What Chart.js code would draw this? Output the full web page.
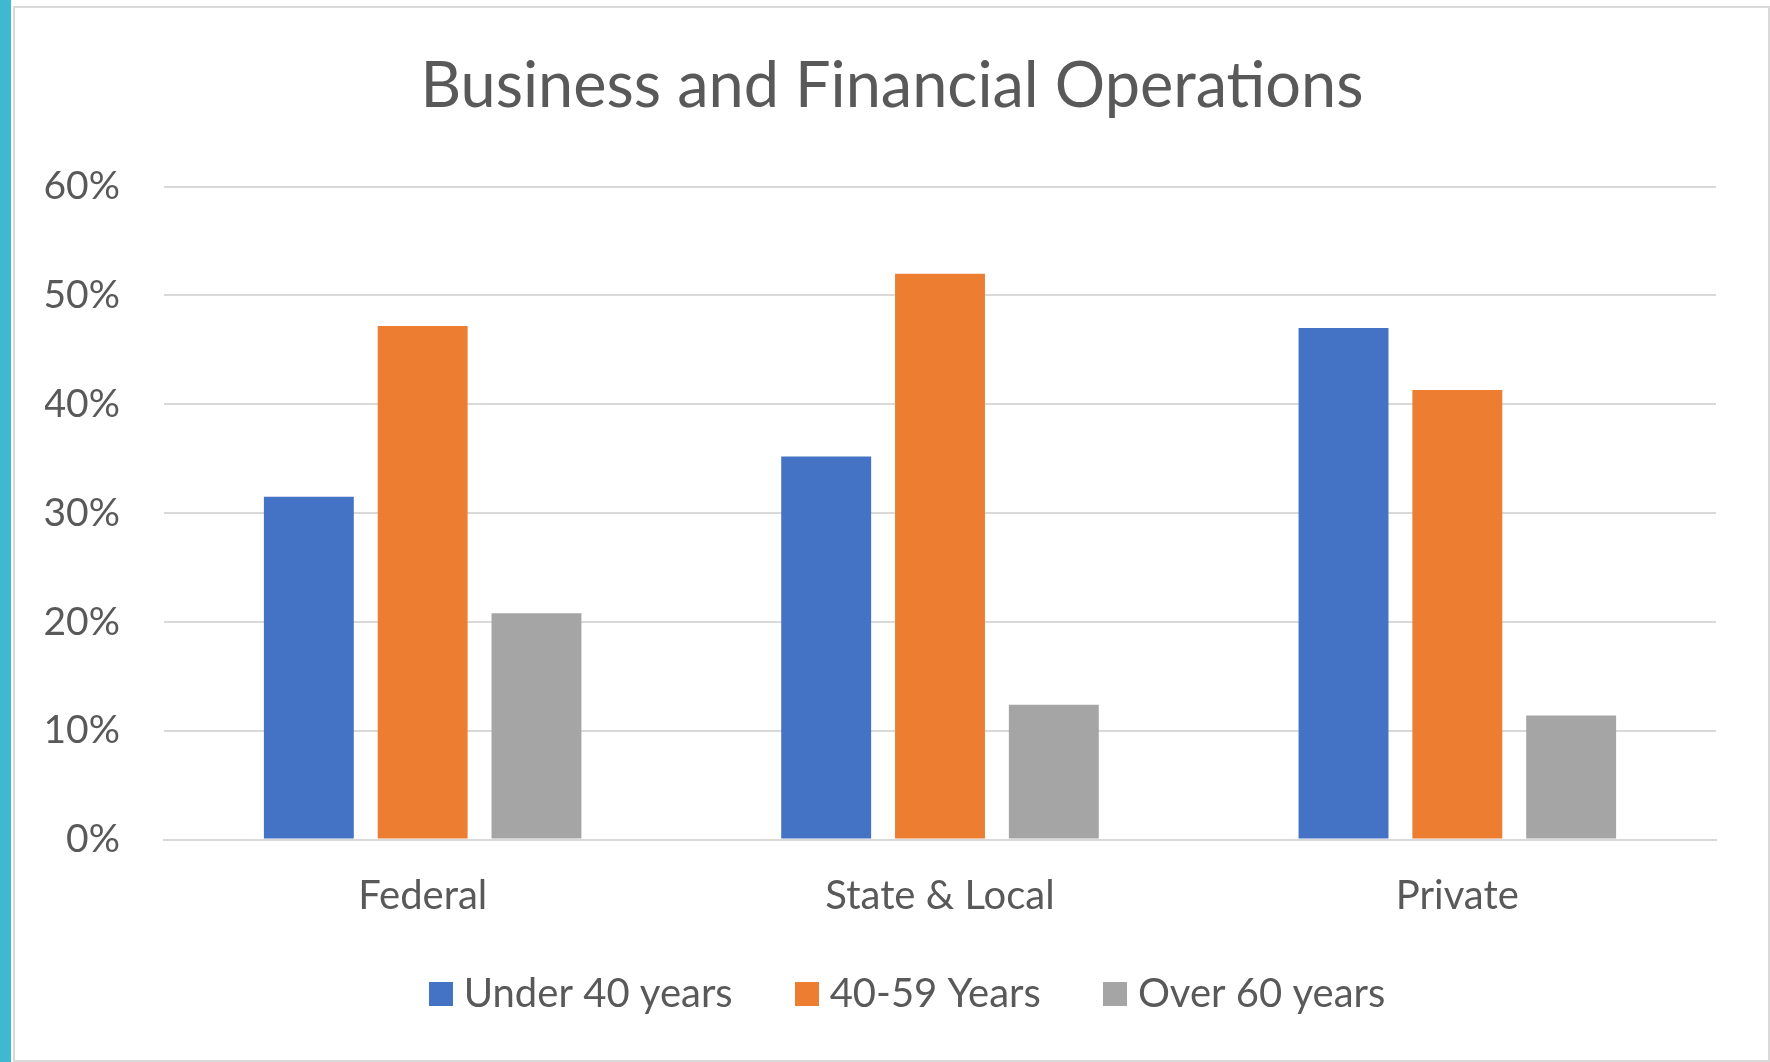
<!DOCTYPE html>
<html>
<head>
<meta charset="utf-8">
<title>Business and Financial Operations</title>
<script src="https://cdn.jsdelivr.net/npm/chart.js@4.4.0/dist/chart.umd.min.js"></script>
<style>
  html, body { margin: 0; padding: 0; background: #fff; }
  body { width: 1770px; height: 1062px; position: relative; overflow: hidden; }
  .side { position: absolute; left: 0; top: 0; width: 11px; height: 1062px; background: #3fb8d2; }
  .frame { position: absolute; left: 13px; top: 6px; width: 1753px; height: 1052px; border: 2px solid #d9d9d9; background: #fff; }
  canvas { display: block; }
</style>
</head>
<body>
<div class="side"></div>
<div class="frame">
  <canvas id="opsChart" width="1753" height="1052"></canvas>
</div>
<script>
// Chart data (percent of workers by age group)
const categories = ['Federal', 'State & Local', 'Private'];
const seriesNames = ['Under 40 years', '40-59 Years', 'Over 60 years'];
const under40 = [31.5, 35.2, 47.0];
const age40to59 = [47.2, 52.0, 41.3];
const over60 = [20.8, 12.4, 11.4];
const yTicks = [0, 10, 20, 30, 40, 50, 60];
const colors = ['#4472c4', '#ed7d31', '#a5a5a5'];

const textColor = '#595959';
const font = 'Lato, "Open Sans", sans-serif';

// small square swatches for the legend (keeps the box close to its text)
const swatches = colors.map(c => {
    const cv = document.createElement('canvas');
    cv.width = 24;
    cv.height = 24;
    const g = cv.getContext('2d');
    g.fillStyle = c;
    g.fillRect(0, 0, 24, 24);
    return cv;
});

// nudge title and legend so they sit like the original
const shiftBoxes = {
    id: 'shiftBoxes',
    afterLayout(chart) {
        chart.titleBlock.left += 11.5;
        chart.titleBlock.right += 11.5;
        chart.legend.left += 31;
        chart.legend.right += 31;
        chart.legend.top -= 9;
        chart.legend.bottom -= 9;
    }
};

const ctx = document.getElementById('opsChart').getContext('2d');
const opsChart = new Chart(ctx, {
    type: 'bar',
    data: {
        labels: categories,
        datasets: [
            { label: seriesNames[0], data: under40, backgroundColor: colors[0] },
            { label: seriesNames[1], data: age40to59, backgroundColor: colors[1] },
            { label: seriesNames[2], data: over60, backgroundColor: colors[2] }
        ]
    },
    plugins: [shiftBoxes],
    options: {
        responsive: false,
        animation: false,
        categoryPercentage: 0.66,
        barPercentage: 0.79,
        layout: { padding: { top: 31, right: 52, bottom: 27, left: 30 } },
        plugins: {
            title: {
                display: true,
                text: 'Business and Financial Operations',
                color: textColor,
                font: { family: font, size: 63, weight: 'normal' },
                padding: { top: 10, bottom: 62 }
            },
            legend: {
                position: 'bottom',
                labels: {
                    color: textColor,
                    font: { family: font, size: 40 },
                    usePointStyle: true,
                    pointStyleWidth: 6,
                    boxHeight: 24,
                    padding: 71,
                    generateLabels: (chart) =>
                        Chart.defaults.plugins.legend.labels.generateLabels(chart)
                            .map((item, i) => ({ ...item, pointStyle: swatches[i] }))
                }
            },
            tooltip: { enabled: false }
        },
        scales: {
            x: {
                grid: { display: false, drawTicks: false },
                border: { color: '#d9d9d9', width: 2 },
                ticks: { color: textColor, font: { family: font, size: 40 }, padding: 32 },
                afterFit: (scale) => { scale.height = 72.4; }
            },
            y: {
                min: 0,
                max: 60,
                afterBuildTicks: (scale) => { scale.ticks = yTicks.map(v => ({ value: v })); },
                grid: { color: '#d9d9d9', lineWidth: 2, drawTicks: false },
                border: { display: false },
                ticks: {
                    color: textColor,
                    font: { family: font, size: 39 },
                    padding: 44,
                    callback: (v) => v + '%'
                },
                afterFit: (scale) => { scale.width = 119; }
            }
        }
    }
});
</script>
</body>
</html>
